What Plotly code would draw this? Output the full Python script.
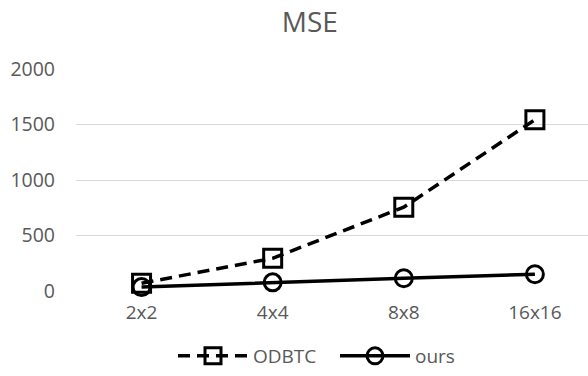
import plotly.graph_objects as go

categories = ["2x2", "4x4", "8x8", "16x16"]
odbtc = [70, 295, 755, 1543]
ours = [35, 78, 115, 151]
y_ticks = [0, 500, 1000, 1500, 2000]

GRAY = "#595959"
FONT = "Open Sans"

fig = go.Figure()
fig.add_trace(go.Scatter(
    x=categories, y=odbtc, name="ODBTC", mode="lines+markers",
    line=dict(color="black", width=3.5, dash="12px,7px"),
    marker=dict(symbol="square-open", size=18, color="black", line=dict(width=3, color="black")),
    cliponaxis=False,
))
fig.add_trace(go.Scatter(
    x=categories, y=ours, name="ours", mode="lines+markers",
    line=dict(color="black", width=3.5),
    marker=dict(symbol="circle-open", size=17, color="black", line=dict(width=3, color="black")),
    cliponaxis=False,
))

fig.update_layout(
    width=588, height=376,
    margin=dict(l=76, r=0, t=69, b=85),
    paper_bgcolor="white", plot_bgcolor="white",
    font=dict(family=FONT, color=GRAY, size=19),
    title=dict(text="MSE", font=dict(size=28, color=GRAY, family=FONT),
               x=0.527, xanchor="center", xref="container",
               y=1 - 22/376, yanchor="middle", yref="container"),
    xaxis=dict(type="category", range=[-0.5, 3.405], showgrid=False, zeroline=False,
               showline=False, ticks="", tickfont=dict(size=19, color=GRAY),
               ticklabelstandoff=8),
    yaxis=dict(range=[0, 2000], tickvals=y_ticks, showgrid=True, gridcolor="#d9d9d9",
               gridwidth=1, zeroline=False, showline=False, ticks="",
               tickfont=dict(size=19.5, color=GRAY), ticklabelstandoff=20),
    legend=dict(orientation="h", x=173/588, xanchor="left", xref="container",
                y=1 - 356/376, yanchor="middle", yref="container",
                font=dict(size=19, color=GRAY), itemwidth=70, traceorder="normal",
                entrywidth=77, entrywidthmode="pixels"),
    showlegend=True,
)

fig.write_html("out.html")
